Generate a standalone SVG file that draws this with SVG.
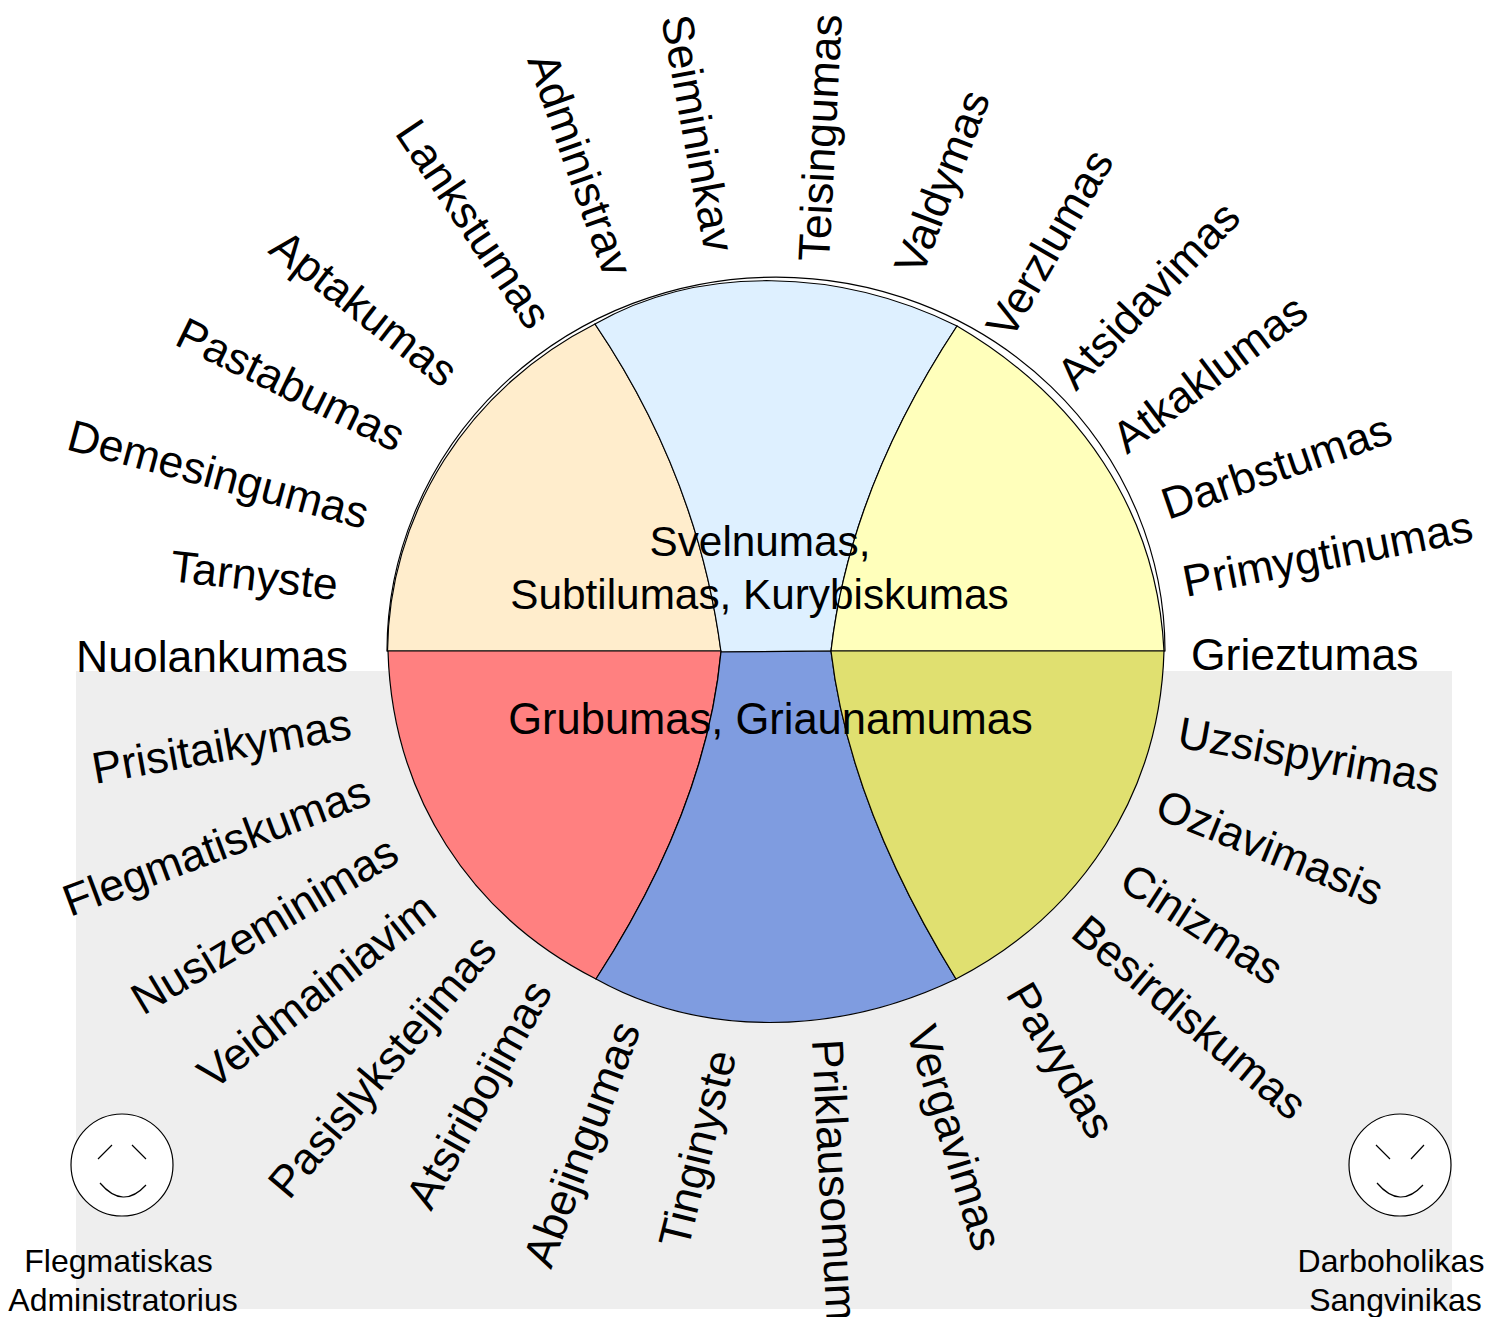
<svg xmlns="http://www.w3.org/2000/svg" width="1503" height="1317" viewBox="0 0 1503 1317">
<style>
.w{stroke:#000;stroke-width:1.2}
.l{font-family:"Liberation Sans",Arial,sans-serif;font-size:44.5px;fill:#000}
.c{font-family:"Liberation Sans",Arial,sans-serif;font-size:42.3px;fill:#000;text-anchor:middle}
.s{font-family:"Liberation Sans",Arial,sans-serif;font-size:32px;fill:#000;text-anchor:middle}
.f{fill:#fff;stroke:#000;stroke-width:1.2}
.m{fill:none;stroke:#000;stroke-width:1.2}
</style>
<rect id="background" x="76" y="671" width="1376" height="638" fill="#eeeeee"/>
<g id="wheel">
<path id="outline" d="M387 651A389 374 0 0 1 1165 651Z" fill="#fff" stroke="#000" stroke-width="1.2"/>
<path id="s-peach" class="w" fill="#ffedcc" d="M387.500 651A389 373 0 0 1 595 324C660 420 705 530 721 651Z"/>
<path id="s-lightblue" class="w" fill="#def0ff" d="M595 324C700 264 840 268 957 326C895 420 845 530 831 651L721 652C705 530 660 420 595 324Z"/>
<path id="s-yellow" class="w" fill="#ffffbb" d="M957 326C1078 397 1157 510 1164 651L831 651C845 530 895 420 957 326Z"/>
<path id="s-red" class="w" fill="#ff8080" d="M388 651C392 795 470 915 596 979C660 880 710 770 721 651Z"/>
<path id="s-blue" class="w" fill="#7f9ce0" d="M721 652L831 651C845 770 895 880 956 979C835 1037 700 1037 596 979C660 880 710 770 721 652Z"/>
<path id="s-olive" class="w" fill="#e0e070" d="M1164 651C1160 795 1080 915 956 979C895 880 845 770 831 651Z"/>
</g>
<g id="center-labels">
<text class="c" x="760" y="556">Svelnumas,</text>
<text class="c" x="759.500" y="609">Subtilumas, Kurybiskumas</text>
<text class="c" x="770.500" y="734" style="font-size:43.500px">Grubumas, Griaunamumas</text>
</g>
<g id="trait-labels">
<text class="l" transform="translate(1191 670)">Grieztumas</text>
<text class="l" transform="translate(1186 597) rotate(-11)">Primygtinumas</text>
<text class="l" transform="translate(1168 520) rotate(-19)">Darbstumas</text>
<text class="l" transform="translate(1127 455) rotate(-37)">Atkaklumas</text>
<text class="l" transform="translate(1076 392) rotate(-46)">Atsidavimas</text>
<text class="l" transform="translate(1011 341) rotate(-60)">Verzlumas</text>
<text class="l" transform="translate(922 277) rotate(-69)">Valdymas</text>
<text class="l" transform="translate(829 262) rotate(-87)">Teisingumas</text>
<text class="l" transform="translate(661 18) rotate(79.500)">Seimininkav</text>
<text class="l" transform="translate(527 60) rotate(70.500)">Administrav</text>
<text class="l" transform="translate(394 133) rotate(56)">Lankstumas</text>
<text class="l" transform="translate(267 252) rotate(38)">Aptakumas</text>
<text class="l" transform="translate(173 344) rotate(26)">Pastabumas</text>
<text class="l" transform="translate(65 449) rotate(15)">Demesingumas</text>
<text class="l" transform="translate(169 581) rotate(6.500)">Tarnyste</text>
<text class="l" transform="translate(76 672)">Nuolankumas</text>
<text class="l" transform="translate(95 784) rotate(-10)">Prisitaikymas</text>
<text class="l" transform="translate(70 917) rotate(-20.500)">Flegmatiskumas</text>
<text class="l" transform="translate(143 1016) rotate(-31)">Nusizeminimas</text>
<text class="l" transform="translate(213 1091) rotate(-38)">Veidmainiavim</text>
<text class="l" transform="translate(289 1201) rotate(-50)">Pasislykstejimas</text>
<text class="l" transform="translate(431 1212) rotate(-61)">Atsiribojimas</text>
<text class="l" transform="translate(551 1270) rotate(-69.500)">Abejingumas</text>
<text class="l" transform="translate(688 1250) rotate(-76)">Tinginyste</text>
<text class="l" transform="translate(812 1040) rotate(87)">Priklausomum</text>
<text class="l" transform="translate(906 1031) rotate(73)">Vergavimas</text>
<text class="l" transform="translate(1005 994) rotate(60)">Pavydas</text>
<text class="l" transform="translate(1069 936) rotate(40)">Besirdiskumas</text>
<text class="l" transform="translate(1117 887) rotate(33)">Cinizmas</text>
<text class="l" transform="translate(1153 817) rotate(22)">Oziavimasis</text>
<text class="l" transform="translate(1176 747) rotate(10)">Uzsispyrimas</text>
</g>
<g id="flegmatiskas">
<circle class="f" cx="122" cy="1165" r="51"/>
<path class="m" d="M98 1159L112 1145M146 1159L132 1145M100 1183Q123 1210 146 1185"/>
<text class="s" x="118.500" y="1272">Flegmatiskas</text>
<text class="s" x="123" y="1311">Administratorius</text>
</g>
<g id="darboholikas">
<circle class="f" cx="1400" cy="1165" r="51"/>
<path class="m" d="M1376 1145L1390 1159M1424 1145L1411 1159M1377 1183Q1400 1210 1423 1185"/>
<text class="s" x="1391" y="1272">Darboholikas</text>
<text class="s" x="1395.500" y="1311">Sangvinikas</text>
</g>
</svg>
